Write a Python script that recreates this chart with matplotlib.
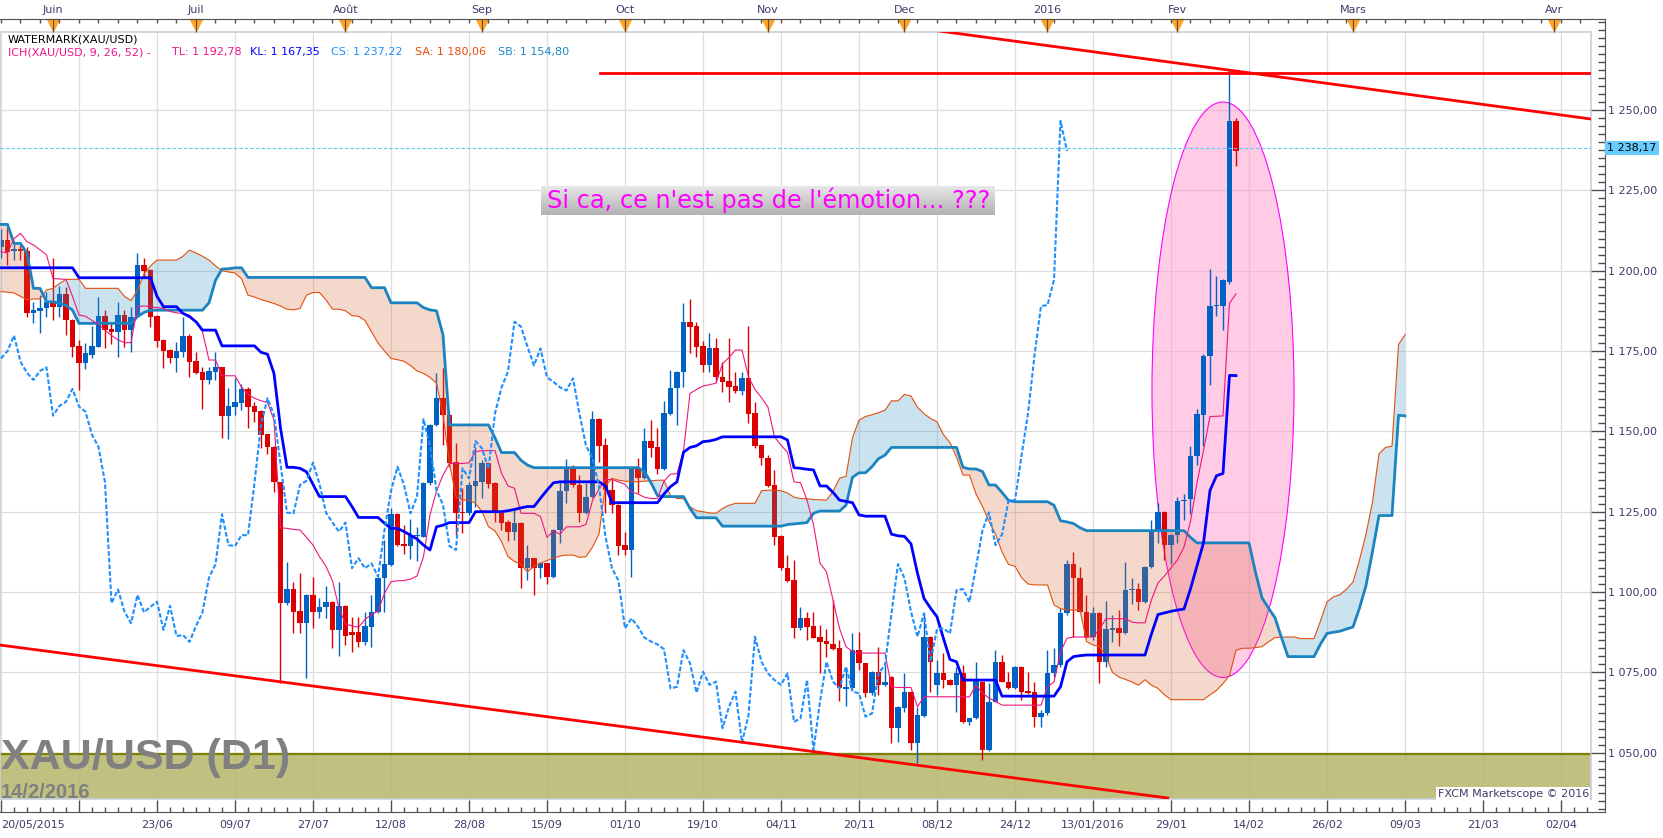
import numpy as np
import matplotlib
matplotlib.use("Agg")
import matplotlib.pyplot as plt
from matplotlib.patches import Ellipse
from matplotlib.colors import LinearSegmentedColormap

# daily candles, bar 0 = 20/05/2015, last bar = 12/02/2016
opens = [1207.5, 1209.5, 1206.0, 1206.6, 1206.1, 1186.9, 1187.5, 1188.3, 1190.1, 1188.8,
         1192.7, 1184.8, 1176.6, 1171.2, 1173.8, 1176.3, 1185.9, 1181.8, 1181.0, 1186.2,
         1181.5, 1185.7, 1201.7, 1200.2, 1185.9, 1178.4, 1175.3, 1172.7, 1174.8, 1179.8,
         1171.9, 1168.4, 1166.0, 1168.6, 1169.9, 1154.9, 1157.7, 1158.9, 1163.2, 1157.9,
         1156.3, 1149.1, 1145.2, 1134.1, 1096.5, 1100.8, 1094.1, 1090.3, 1099.1, 1093.7,
         1095.2, 1097.0, 1088.2, 1095.7, 1087.6, 1087.6, 1084.5, 1089.2, 1093.7, 1104.3,
         1108.4, 1124.2, 1114.8, 1114.3, 1117.3, 1117.2, 1133.8, 1152.0, 1160.3, 1155.1,
         1140.4, 1125.0, 1124.5, 1133.0, 1134.3, 1140.3, 1134.0, 1124.7, 1121.9, 1118.8,
         1121.6, 1107.4, 1110.5, 1107.4, 1108.9, 1104.8, 1119.3, 1131.4, 1139.0, 1133.3,
         1124.5, 1129.7, 1153.8, 1145.7, 1131.7, 1127.1, 1114.6, 1113.1, 1138.2, 1135.4,
         1147.0, 1145.2, 1138.3, 1155.4, 1163.4, 1168.4, 1184.1, 1182.8, 1176.6, 1170.5,
         1175.8, 1166.8, 1165.7, 1164.1, 1162.7, 1166.5, 1155.6, 1145.7, 1141.6, 1133.3,
         1117.4, 1107.4, 1103.7, 1088.7, 1091.8, 1089.4, 1085.9, 1084.9, 1083.8, 1082.5,
         1069.8, 1070.0, 1081.9, 1077.8, 1068.7, 1075.2, 1071.1, 1073.6, 1057.6, 1063.8,
         1069.0, 1053.1, 1061.4, 1086.1, 1071.1, 1074.7, 1072.6, 1071.1, 1074.7, 1059.6,
         1060.7, 1072.1, 1050.8, 1065.9, 1078.3, 1072.1, 1070.0, 1076.8, 1069.3, 1069.0,
         1061.2, 1062.2, 1074.7, 1077.3, 1093.4, 1108.7, 1104.3, 1093.9, 1086.1, 1093.4,
         1078.3, 1088.2, 1088.7, 1087.1, 1100.5, 1100.9, 1096.9, 1107.8, 1119.2, 1124.8,
         1114.6, 1117.9, 1128.3, 1128.8, 1142.2, 1155.2, 1173.3, 1189.0, 1189.0, 1196.5,
         1246.6]
highs = [1213.0, 1213.2, 1209.0, 1208.0, 1207.5, 1190.3, 1192.4, 1193.4, 1203.8, 1195.2,
         1195.0, 1185.0, 1178.4, 1177.6, 1182.9, 1191.9, 1187.7, 1184.1, 1190.3, 1187.7,
         1188.8, 1205.4, 1203.8, 1200.5, 1186.2, 1178.6, 1175.5, 1177.7, 1185.7, 1180.3,
         1174.8, 1170.1, 1170.1, 1174.8, 1170.1, 1163.4, 1166.5, 1164.7, 1163.9, 1159.2,
         1156.6, 1149.3, 1145.4, 1134.3, 1109.4, 1103.2, 1105.8, 1099.3, 1104.8, 1098.0,
         1101.9, 1097.2, 1103.2, 1095.9, 1092.3, 1092.3, 1093.9, 1099.1, 1104.7, 1116.2,
         1126.0, 1124.5, 1120.9, 1122.6, 1120.3, 1134.2, 1152.2, 1168.3, 1169.6, 1156.1,
         1146.3, 1132.3, 1134.3, 1145.2, 1141.1, 1140.5, 1134.2, 1124.9, 1122.4, 1126.0,
         1121.8, 1114.6, 1110.7, 1109.4, 1109.1, 1119.5, 1134.3, 1141.3, 1139.6, 1136.4,
         1133.8, 1156.4, 1154.0, 1147.8, 1135.4, 1127.3, 1118.8, 1138.7, 1141.6, 1150.9,
         1153.5, 1150.9, 1159.5, 1169.1, 1168.8, 1189.8, 1191.2, 1184.1, 1178.0, 1180.7,
         1179.0, 1171.7, 1179.0, 1168.6, 1168.6, 1182.8, 1159.2, 1145.9, 1142.6, 1138.0,
         1117.6, 1111.5, 1110.0, 1095.4, 1093.9, 1093.9, 1089.7, 1088.4, 1097.5, 1085.1,
         1076.5, 1087.1, 1087.6, 1078.0, 1075.4, 1083.0, 1077.3, 1073.8, 1064.5, 1074.7,
         1069.2, 1064.3, 1093.4, 1086.3, 1078.8, 1080.9, 1072.8, 1076.8, 1077.3, 1060.9,
         1078.3, 1072.3, 1071.6, 1081.9, 1080.4, 1075.2, 1076.9, 1077.0, 1075.2, 1072.1,
         1063.3, 1081.9, 1082.5, 1094.9, 1109.9, 1112.6, 1107.9, 1099.1, 1095.4, 1093.8,
         1097.2, 1093.0, 1094.3, 1109.4, 1104.4, 1102.8, 1108.0, 1122.5, 1127.7, 1125.3,
         1118.1, 1129.7, 1130.6, 1145.4, 1156.8, 1174.2, 1200.4, 1198.4, 1197.3, 1262.6,
         1247.5]
lows = [1204.0, 1201.7, 1203.3, 1203.3, 1185.7, 1183.8, 1180.5, 1185.7, 1184.6, 1185.7,
        1180.0, 1173.2, 1162.9, 1169.3, 1172.7, 1176.1, 1175.8, 1177.1, 1173.0, 1176.3,
        1174.8, 1185.5, 1197.6, 1182.6, 1176.3, 1169.6, 1171.2, 1168.6, 1173.2, 1167.0,
        1167.8, 1156.9, 1164.7, 1166.0, 1148.0, 1147.5, 1155.1, 1156.6, 1151.1, 1153.0,
        1144.7, 1143.1, 1131.0, 1071.6, 1096.0, 1087.1, 1087.3, 1073.3, 1088.7, 1091.8,
        1091.8, 1082.7, 1080.1, 1083.5, 1081.2, 1083.0, 1083.5, 1083.0, 1093.4, 1093.9,
        1108.2, 1114.2, 1111.8, 1110.2, 1109.8, 1117.0, 1133.4, 1151.7, 1145.7, 1139.0,
        1117.7, 1118.3, 1124.0, 1126.6, 1129.2, 1132.3, 1121.9, 1119.3, 1116.0, 1116.2,
        1101.4, 1103.7, 1099.1, 1104.3, 1102.5, 1104.3, 1115.4, 1127.6, 1132.8, 1121.9,
        1124.3, 1129.2, 1140.6, 1124.5, 1124.5, 1111.5, 1111.5, 1104.8, 1130.9, 1135.2,
        1141.9, 1136.7, 1138.1, 1155.2, 1152.0, 1163.7, 1174.5, 1173.2, 1168.6, 1168.6,
        1165.4, 1162.3, 1159.0, 1161.8, 1161.3, 1152.5, 1144.9, 1139.5, 1132.8, 1114.6,
        1106.8, 1103.2, 1085.6, 1088.2, 1085.1, 1085.6, 1074.7, 1079.9, 1081.9, 1066.0,
        1064.5, 1069.5, 1075.7, 1067.4, 1068.0, 1067.9, 1070.9, 1052.9, 1053.4, 1062.8,
        1050.8, 1046.7, 1061.2, 1069.0, 1068.0, 1070.0, 1071.0, 1062.8, 1059.1, 1058.6,
        1060.5, 1047.7, 1050.6, 1065.7, 1072.0, 1069.8, 1069.8, 1066.4, 1068.3, 1058.1,
        1058.1, 1061.8, 1073.6, 1076.8, 1092.8, 1086.1, 1093.7, 1085.6, 1085.1, 1071.6,
        1076.6, 1084.5, 1083.2, 1086.9, 1096.3, 1094.3, 1096.7, 1107.5, 1115.3, 1110.0,
        1108.7, 1115.3, 1122.5, 1124.4, 1139.5, 1145.4, 1164.4, 1186.0, 1181.4, 1195.8,
        1232.7]
closes = [1209.5, 1205.9, 1206.6, 1206.2, 1186.9, 1187.7, 1188.5, 1190.1, 1188.8, 1192.7,
          1184.6, 1176.3, 1171.2, 1174.3, 1176.6, 1185.9, 1181.5, 1180.8, 1186.2, 1181.5,
          1185.7, 1201.7, 1200.0, 1185.7, 1178.2, 1175.1, 1172.7, 1175.0, 1179.8, 1171.7,
          1168.2, 1166.0, 1168.8, 1169.9, 1154.9, 1157.9, 1159.2, 1163.2, 1157.7, 1156.1,
          1148.9, 1145.2, 1134.1, 1096.5, 1100.8, 1093.9, 1090.3, 1099.1, 1093.7, 1095.4,
          1097.0, 1088.2, 1095.7, 1086.3, 1086.6, 1084.5, 1089.4, 1093.7, 1104.5, 1108.6,
          1124.2, 1114.6, 1114.3, 1117.7, 1117.7, 1134.0, 1152.0, 1160.3, 1155.1, 1140.0,
          1124.7, 1124.5, 1133.3, 1134.6, 1140.3, 1133.6, 1124.7, 1121.6, 1118.8, 1121.6,
          1107.4, 1110.5, 1107.4, 1108.9, 1104.8, 1119.3, 1131.4, 1139.0, 1133.3, 1124.5,
          1129.7, 1153.8, 1145.5, 1131.7, 1127.1, 1114.3, 1113.1, 1138.5, 1135.4, 1147.0,
          1144.7, 1138.3, 1155.6, 1163.6, 1168.6, 1184.1, 1182.6, 1176.3, 1170.5, 1175.8,
          1166.8, 1165.4, 1163.7, 1162.7, 1166.5, 1155.4, 1145.5, 1141.6, 1133.0, 1117.2,
          1107.4, 1103.5, 1088.7, 1091.8, 1089.2, 1085.8, 1084.6, 1083.7, 1082.2, 1070.0,
          1070.5, 1081.9, 1077.8, 1068.7, 1075.2, 1071.1, 1072.1, 1057.6, 1064.3, 1069.0,
          1053.1, 1061.7, 1086.1, 1078.3, 1074.7, 1072.6, 1071.1, 1074.7, 1059.6, 1060.7,
          1072.6, 1050.8, 1065.9, 1078.3, 1072.1, 1070.0, 1076.8, 1069.0, 1068.5, 1061.2,
          1062.2, 1074.7, 1077.3, 1093.4, 1108.7, 1104.3, 1093.9, 1086.1, 1093.4, 1078.3,
          1088.5, 1088.7, 1087.1, 1100.6, 1100.9, 1096.9, 1107.8, 1119.2, 1124.8, 1114.6,
          1117.9, 1128.3, 1128.6, 1142.4, 1155.5, 1173.6, 1189.0, 1189.3, 1197.1, 1246.6,
          1237.22]

# ichimoku lines as drawn on the chart
tenkan = [1205.9, 1205.5, 1210.0, 1211.6, 1209.0, 1208.0, 1206.5, 1204.9, 1197.6, 1197.4,
          1197.3, 1192.0, 1186.2, 1185.8, 1184.5, 1183.4, 1181.5, 1179.8, 1178.5, 1177.6,
          1177.6, 1188.8, 1189.0, 1188.8, 1188.5, 1188.3, 1187.3, 1186.9, 1186.7, 1186.2,
          1184.0, 1181.0, 1172.2, 1172.2, 1167.3, 1167.3, 1167.3, 1163.8, 1161.5, 1160.3,
          1159.5, 1159.0, 1153.5, 1120.0, 1119.8, 1119.5, 1119.3, 1117.0, 1114.6, 1111.0,
          1108.0, 1103.5, 1095.0, 1090.0, 1089.5, 1089.0, 1091.5, 1093.0, 1094.0, 1099.6,
          1103.2, 1103.5, 1103.6, 1104.0, 1105.0, 1111.0, 1124.0, 1131.5, 1136.4, 1140.0,
          1140.0, 1140.0, 1140.2, 1143.7, 1144.0, 1144.0, 1144.0, 1137.0, 1133.0, 1132.3,
          1124.5, 1124.5, 1124.5, 1123.5, 1117.0, 1119.0, 1118.0, 1120.3, 1120.3, 1120.3,
          1121.0, 1128.5, 1132.0, 1135.0, 1135.0, 1134.3, 1133.5, 1131.2, 1130.5, 1129.5,
          1129.1, 1129.1, 1134.5, 1136.7, 1136.8, 1144.0, 1161.8, 1163.0, 1164.1, 1164.5,
          1165.0, 1171.0, 1173.0, 1175.3, 1175.3, 1167.0, 1163.0, 1160.5, 1157.5, 1148.3,
          1145.7, 1143.5, 1134.3, 1134.0, 1128.6, 1121.0, 1109.0, 1106.3, 1097.5, 1088.7,
          1083.0, 1081.4, 1081.0, 1081.0, 1081.0, 1081.0, 1081.0, 1070.5, 1070.3, 1070.3,
          1070.3, 1064.3, 1067.4, 1067.4, 1067.4, 1067.4, 1067.4, 1067.4, 1067.4, 1067.4,
          1071.0, 1068.5, 1067.0, 1066.0, 1064.8, 1064.8, 1064.8, 1064.8, 1064.8, 1064.8,
          1064.8, 1070.5, 1072.0, 1081.4, 1085.6, 1086.0, 1086.0, 1086.0, 1086.0, 1088.5,
          1091.7, 1091.7, 1091.7, 1091.7, 1090.6, 1090.4, 1090.4, 1097.6, 1102.8, 1105.0,
          1107.5, 1110.0, 1114.0, 1122.0, 1134.0, 1144.0, 1154.6, 1154.7, 1154.8, 1189.9,
          1192.78]
kijun = ([1200.9] * 12 + [1197.8] * 12 +
         [1192.0, 1188.8, 1188.8, 1188.8, 1186.7, 1185.7,
          1184.1, 1181.5, 1181.5, 1181.5] + [1176.6] * 6 +
         [1174.6, 1174.0, 1168.0, 1151.0, 1138.8, 1138.8, 1138.5, 1137.4, 1133.5, 1129.7,
          1129.7, 1129.7, 1129.7, 1129.7, 1126.6, 1123.2, 1123.2, 1123.2, 1123.2, 1121.4,
          1119.8, 1119.8, 1118.8, 1117.7, 1116.5, 1114.6, 1113.1, 1120.3, 1120.8, 1121.6,
          1121.6, 1121.6, 1121.6, 1125.0, 1125.0, 1125.0, 1125.0, 1125.0, 1125.3, 1125.7,
          1126.2, 1126.6, 1126.6, 1129.2, 1131.7, 1134.0, 1134.3, 1134.3, 1134.3, 1134.3,
          1134.3, 1134.3, 1134.3, 1133.0, 1127.8, 1127.8, 1127.8, 1127.8, 1127.8, 1127.8,
          1127.8, 1127.8, 1130.5, 1132.8, 1134.3, 1143.5, 1145.0, 1145.5, 1146.8, 1147.0,
          1147.5] + [1148.3] * 10 +
         [1147.3, 1138.7, 1138.5, 1138.2, 1138.0, 1133.0, 1133.0, 1131.0, 1128.6,
          1128.2, 1127.8, 1124.0, 1123.6, 1123.6, 1123.6, 1123.6, 1118.0, 1117.5, 1117.3,
          1115.0, 1105.8, 1098.0, 1095.0, 1092.3, 1085.5, 1079.0, 1078.3] + [1072.6] * 6 +
         [1067.6] * 9 + [1070.5, 1078.3, 1079.9, 1080.2] + [1080.4] * 10 +
         [1087.0, 1093.0, 1093.5, 1094.0, 1094.4, 1094.7, 1101.0, 1108.1, 1115.3, 1131.6,
          1136.2, 1136.9, 1167.4, 1167.35])
span_a = [1193.5, 1193.3, 1193.1, 1192.0, 1190.9, 1191.2, 1191.2, 1194.0, 1194.5, 1196.0,
          1197.3, 1197.3, 1197.3, 1194.5, 1194.5, 1194.5, 1194.5, 1194.5, 1194.5, 1192.0,
          1190.7, 1194.0, 1199.0, 1201.5, 1203.3, 1203.3, 1203.3, 1203.3, 1204.5, 1206.4,
          1205.5, 1204.5, 1203.3, 1201.5, 1200.0, 1199.6, 1199.3, 1197.5, 1192.4, 1191.8,
          1191.0, 1190.4, 1189.8, 1189.0, 1188.0, 1187.8, 1188.2, 1192.4, 1193.2, 1193.2,
          1190.9, 1188.0, 1188.0, 1187.5, 1186.0, 1185.8, 1184.5, 1181.0, 1177.5, 1175.0,
          1172.7, 1172.3, 1171.8, 1170.5, 1168.8, 1168.0, 1166.8, 1165.0, 1155.0, 1140.0,
          1129.5, 1128.6, 1128.6, 1127.6, 1125.0, 1120.3, 1119.0, 1115.7, 1111.0, 1109.5,
          1108.6, 1106.3, 1107.9, 1108.9, 1109.8, 1110.5, 1111.2, 1111.5, 1111.5, 1110.8,
          1111.0, 1114.0, 1118.0, 1133.0, 1135.4, 1134.8, 1134.5, 1134.3, 1134.3, 1134.5,
          1134.6, 1134.8, 1134.8, 1130.0, 1129.1, 1129.1, 1126.5, 1125.3, 1125.0, 1124.6,
          1124.5, 1126.0, 1127.0, 1127.6, 1127.6, 1127.6, 1127.6, 1131.5, 1131.7, 1131.7,
          1131.5, 1130.8, 1129.5, 1129.1, 1129.0, 1128.8, 1128.7, 1128.6, 1131.2, 1135.4,
          1136.0, 1148.0, 1153.5, 1154.6, 1155.2, 1155.8, 1156.6, 1159.5, 1159.5, 1161.5,
          1161.0, 1157.5, 1155.5, 1154.0, 1153.0, 1149.0, 1146.5, 1142.0, 1136.4, 1136.4,
          1130.5, 1126.6, 1122.0, 1118.0, 1112.5, 1108.6, 1108.0, 1104.5, 1102.5, 1102.2,
          1102.2, 1102.2, 1096.0, 1094.8, 1094.4, 1094.4, 1094.4, 1084.6, 1083.5, 1083.0,
          1080.0, 1075.0, 1073.5, 1072.8, 1072.0, 1071.0, 1072.7, 1071.0, 1070.0, 1068.0,
          1066.5, 1066.5, 1066.5, 1066.5, 1066.5, 1066.5, 1068.0, 1069.4, 1071.5, 1074.0,
          1081.9, 1082.5, 1082.5, 1082.7, 1083.0, 1084.5, 1085.8, 1086.0, 1086.0, 1086.0,
          1085.5, 1085.5, 1085.5, 1091.0, 1097.0, 1098.5, 1099.2, 1100.9, 1103.1, 1110.0,
          1118.0, 1128.0, 1143.0, 1145.0, 1145.4, 1177.0, 1180.06]
span_b = ([1214.4, 1214.4, 1208.5, 1208.5, 1205.4, 1194.5, 1194.5, 1190.3, 1190.3, 1189.9,
           1189.2, 1187.7] + [1183.6] * 9 + [1185.7, 1187.0] + [1187.7] * 9 +
          [1190.0, 1197.0, 1200.5, 1200.6, 1200.9, 1200.9] + [1197.9] * 19 +
          [1194.7] * 3 + [1190.0] * 5 + [1188.5, 1187.8, 1187.5, 1180.0] + [1152.0] * 7 +
          [1148.0, 1143.4, 1143.4, 1143.4, 1141.0, 1139.5] + [1138.7] * 17 +
          [1137.5, 1134.0, 1130.0] + [1129.7] * 4 + [1126.0] + [1123.1] * 4 + [1120.5] * 10 +
          [1121.0, 1121.2, 1121.4, 1121.6, 1124.5] + [1125.2] * 4 +
          [1127.0, 1135.7, 1137.1, 1137.1, 1139.0, 1141.5, 1142.6] + [1145.0] * 11 +
          [1138.8, 1138.3, 1138.3, 1137.5, 1133.3, 1133.3, 1131.0, 1128.5] + [1128.1] * 6 +
          [1127.0, 1122.2, 1121.8, 1121.3, 1120.0] + [1119.1] * 16 + [1117.0] + [1115.3] * 9 +
          [1106.1, 1098.2, 1095.0, 1092.0, 1085.8] + [1079.9] * 5 +
          [1083.8, 1087.1, 1087.5, 1087.8, 1088.5, 1089.1, 1095.0, 1102.0, 1112.6,
           1123.8, 1123.8, 1123.8, 1155.0, 1154.8])

last_price = 1238.17

bottom_ticks = list(range(0, 241, 12))
bottom_labels = ['20/05/2015', '', '23/06', '09/07', '27/07', '12/08', '28/08', '15/09',
                 '01/10', '19/10', '04/11', '20/11', '08/12', '24/12', '13/01/2016',
                 '29/01', '14/02', '26/02', '09/03', '21/03', '02/04']
month_pos = [8, 30, 53, 74, 96, 118, 139, 161, 181, 208, 239]
month_names = ['Juin', 'Juil', 'Août', 'Sep', 'Oct', 'Nov', 'Dec', '2016', 'Fev', 'Mars', 'Avr']
price_ticks = [1050, 1075, 1100, 1125, 1150, 1175, 1200, 1225, 1250]


W, H = 1663, 838
AXC = '#3c3c6c'


def ix(px):
    # pixel column -> bar index (6.5 px per bar)
    return (px - 1) / 6.5


def pr(py):
    # pixel row -> price
    return 1250 - (py - 110) / 3.2135


def fmt(v):
    return f"{v:,.2f}".replace(',', ' ').replace('.', ',')


fig = plt.figure(figsize=(W / 100, H / 100), dpi=100)
fig.patch.set_facecolor('white')

# main plot area
ax = fig.add_axes([0, 1 - 799 / H, 1591 / W, (799 - 31.7) / H])
ax.set_xlim(ix(0), ix(1591))
ax.set_ylim(pr(799), pr(31.7))
ax.set_xticks([])
ax.set_yticks([])
for s in ax.spines.values():
    s.set_color('#c8d0da')
    s.set_linewidth(1.2)

for t in bottom_ticks:
    ax.axvline(t, color='#dddddd', lw=0.9, zorder=0)
for p in price_ticks:
    ax.axhline(p, color='#dddddd', lw=0.9, zorder=0)

# support zone + watermark
ax.axhspan(pr(799) - 1, 1049.5, color='#b5b56a', alpha=0.85, lw=0, zorder=0.5)
ax.axhline(1049.5, color='#7f7f00', lw=1.6, zorder=0.6)
ax.text(ix(1), pr(769), 'XAU/USD (D1)', fontsize=31, fontweight='bold', color='#808080',
        family='Liberation Sans', ha='left', va='baseline', zorder=0.7)
ax.text(ix(1), pr(798), '14/2/2016', fontsize=14.5, fontweight='bold', color='#808080',
        family='Liberation Sans', ha='left', va='baseline', zorder=0.7)

# emotion ellipse
ax.add_patch(Ellipse((188.0, 1162.95), 21.85, 179.1, facecolor=(1, 0.6, 0.8, 0.5),
                     edgecolor='#ff00ff', lw=0.8, zorder=1))

# candles
o = np.array(opens)
h = np.array(highs)
l = np.array(lows)
c = np.array(closes)
x = np.arange(len(c))
up = c >= o
BULL, BEAR = '#0062c4', '#dd0000'
ax.vlines(x[up], l[up], h[up], color=BULL, lw=1.0, zorder=2)
ax.vlines(x[~up], l[~up], h[~up], color=BEAR, lw=1.0, zorder=2)
ax.bar(x[up], np.maximum(c - o, 0.35)[up], bottom=o[up], width=0.8, color=BULL, lw=0, zorder=2.1)
ax.bar(x[~up], np.maximum(o - c, 0.35)[~up], bottom=c[~up], width=0.8, color=BEAR, lw=0, zorder=2.1)

# cloud
sa = np.array(span_a)
sb = np.array(span_b)
xc = np.arange(len(sa))
ax.fill_between(xc, sa, sb, where=sa >= sb, interpolate=True, color='#338fc3', alpha=0.25, lw=0, zorder=3)
ax.fill_between(xc, sa, sb, where=sa < sb, interpolate=True, color='#d76733', alpha=0.25, lw=0, zorder=3)
ax.plot(xc, sa, color='#e2500f', lw=0.8, zorder=4)
ax.plot(xc, sb, color='#1984c0', lw=2.0, zorder=4)

ax.plot(x, tenkan, color='#f0167f', lw=0.8, zorder=4.5)
ax.plot(x, kijun, color='#0000ff', lw=2.0, zorder=4.5)
ax.plot(np.arange(len(c) - 26), c[26:], color='#1e8fff', lw=1.5, dashes=(2.2, 1.0), zorder=4.5)

# trend lines
ax.plot([ix(600), ix(1591)], [1261.4, 1261.4], color='#ff0000', lw=2.0, zorder=5)
ax.plot([143.2, 244.6], [1274.9, 1247.2], color='#ff0000', lw=2.0, zorder=5)
ax.plot([ix(0), 179.5], [1083.5, 1035.9], color='#ff0000', lw=2.0, zorder=5)

# current price
ax.axhline(last_price, color='#5ac8fa', lw=0.8, ls=(0, (3, 2)), zorder=5)

ax.text(ix(1589), pr(798.5), 'FXCM Marketscope © 2016', ha='right', va='bottom', fontsize=8,
        color=AXC, zorder=6, bbox=dict(fc='white', ec='none', pad=1))

# right price axis
ax_r = fig.add_axes([1591 / W, 1 - 811.7 / H, 14 / W, (811.7 - 19) / H])
ax_r.set_ylim(pr(811.7), pr(19))
ax_r.patch.set_visible(False)
for k in ['left', 'top', 'bottom']:
    ax_r.spines[k].set_visible(False)
ax_r.spines['right'].set_color('#505050')
ax_r.set_xticks([])
ax_r.yaxis.tick_right()
ax_r.set_yticks(price_ticks)
ax_r.set_yticklabels([fmt(p) for p in price_ticks])
ax_r.set_yticks(np.arange(1032.5, 1278, 2.5), minor=True)
ax_r.tick_params(axis='y', which='major', direction='in', length=10, width=1, color='#505050',
                 pad=2, labelsize=8, labelcolor=AXC)
ax_r.tick_params(axis='y', which='minor', direction='in', length=5, width=1, color='#505050')

fig.text(1607 / W, 1 - 148 / H, fmt(last_price), fontsize=8, color='black', va='center', ha='left',
         bbox=dict(fc='#66ccff', ec='none', pad=1.6))

# bottom date axis
ax_b = fig.add_axes([0, 1 - 811.7 / H, 1605 / W, (811.7 - 799) / H])
ax_b.set_xlim(ix(0), ix(1605))
ax_b.patch.set_visible(False)
for k in ['left', 'top', 'right']:
    ax_b.spines[k].set_visible(False)
ax_b.spines['bottom'].set_color('#505050')
ax_b.set_yticks([])
ax_b.set_xticks(bottom_ticks)
ax_b.set_xticklabels(bottom_labels)
ax_b.set_xticks(np.arange(0, 246, 2), minor=True)
ax_b.tick_params(axis='x', which='major', direction='in', length=8.8, width=1, color='#505050',
                 pad=6, labelsize=8, labelcolor=AXC)
ax_b.tick_params(axis='x', which='minor', direction='in', length=3.5, width=1, color='#505050')
ax_b.get_xticklabels()[0].set_horizontalalignment('left')

# top month axis
ax_t = fig.add_axes([0, 1 - 31.7 / H, 1605 / W, (31.7 - 19) / H])
ax_t.set_xlim(ix(0), ix(1605))
ax_t.set_ylim(0, 1)
ax_t.patch.set_visible(False)
for k in ['left', 'bottom', 'right']:
    ax_t.spines[k].set_visible(False)
ax_t.spines['top'].set_color('#505050')
ax_t.set_yticks([])
ax_t.xaxis.tick_top()
ax_t.set_xticks(month_pos)
ax_t.set_xticklabels(month_names)
ax_t.set_xticks(np.arange(0, 246, 3), minor=True)
ax_t.tick_params(axis='x', which='major', direction='in', length=9, width=0.8, color='#505050',
                 pad=3, labelsize=8, labelcolor=AXC)
ax_t.tick_params(axis='x', which='minor', direction='in', length=3, width=1, color='#505050')
ax_t.plot(month_pos, [0.5] * len(month_pos), ls='none', marker='v', ms=9, color='#ffa321',
          clip_on=False, zorder=1)

# indicator legend
fig.text(8 / W, 1 - 39 / H, 'WATERMARK(XAU/USD)', fontsize=8, color='black', va='center')
legend_parts = [
    (8, 'ICH(XAU/USD, 9, 26, 52) -', '#f0148c'),
    (172, 'TL: ' + fmt(tenkan[-1]), '#f0148c'),
    (250, 'KL: ' + fmt(kijun[-1]), '#0000ff'),
    (331, 'CS: ' + fmt(closes[-1]), '#1e90ff'),
    (415, 'SA: ' + fmt(span_a[-1]), '#e8500a'),
    (498, 'SB: ' + fmt(span_b[-1]), '#1a8ac8'),
]
for px, s, col in legend_parts:
    fig.text(px / W, 1 - 52.3 / H, s, fontsize=8, color=col, va='center')

# comment box
ax_box = fig.add_axes([541 / W, 1 - 215 / H, 454 / W, 29.3 / H])
ax_box.imshow(np.linspace(0, 1, 40).reshape(-1, 1), aspect='auto', extent=[0, 1, 0, 1],
              cmap=LinearSegmentedColormap.from_list('box', ['#e9e9e9', '#b2b2b2']))
ax_box.axis('off')
fig.text(547 / W, 1 - 200.5 / H, "Si ca, ce n'est pas de l'émotion... ???", fontsize=17.3,
         color='#ff00ff', va='center', ha='left')

fig.savefig('out.png', dpi=100)
